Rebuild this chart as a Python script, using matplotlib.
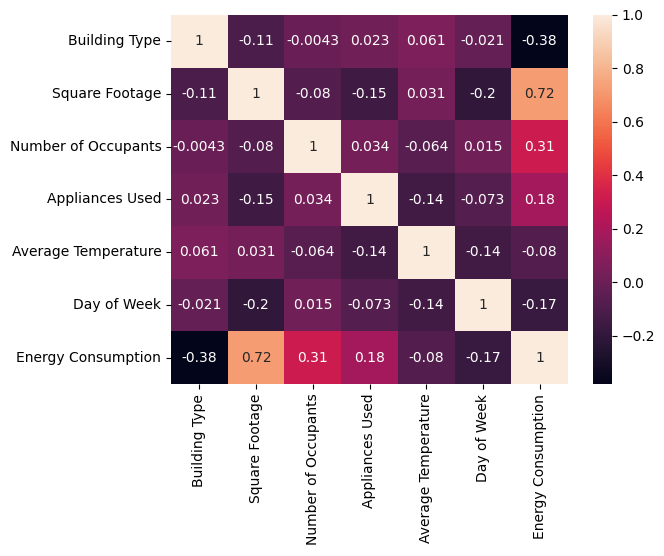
import matplotlib
matplotlib.use("Agg")
import matplotlib.pyplot as plt
import seaborn as sns
import numpy as np
import pandas as pd

labels = ["Building Type", "Square Footage", "Number of Occupants",
          "Appliances Used", "Average Temperature", "Day of Week",
          "Energy Consumption"]

corr_values = [
    [1, -0.11, -0.0043, 0.023, 0.061, -0.021, -0.38],
    [-0.11, 1, -0.08, -0.15, 0.031, -0.2, 0.72],
    [-0.0043, -0.08, 1, 0.034, -0.064, 0.015, 0.31],
    [0.023, -0.15, 0.034, 1, -0.14, -0.073, 0.18],
    [0.061, 0.031, -0.064, -0.14, 1, -0.14, -0.08],
    [-0.021, -0.2, 0.015, -0.073, -0.14, 1, -0.17],
    [-0.38, 0.72, 0.31, 0.18, -0.08, -0.17, 1],
]

df = pd.DataFrame(corr_values, index=labels, columns=labels)

W, H = 664, 556
fig = plt.figure(figsize=(W / 100, H / 100), dpi=100)
left, right, top, bottom = 171, 568, 15, 384
ax = fig.add_axes([left / W, 1 - bottom / H, (right - left) / W, (bottom - top) / H])
cax = fig.add_axes([593 / W, 1 - bottom / H, 19 / W, (bottom - top) / H])

sns.heatmap(df, annot=True, ax=ax, cbar_ax=cax)

fig.savefig("out.png", dpi=100)
